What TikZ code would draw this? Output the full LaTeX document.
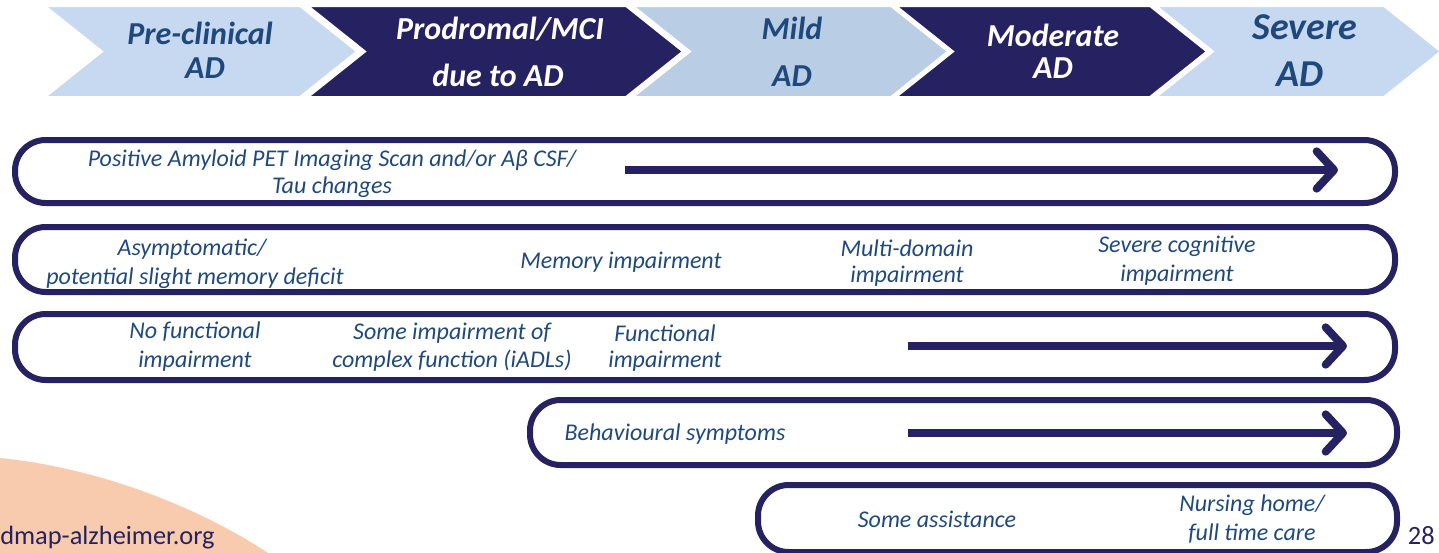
\documentclass[tikz,border=0pt]{standalone}
\usepackage{fontspec}
\setmainfont{Carlito}
\usetikzlibrary{arrows.meta}
\definecolor{navy}{HTML}{262262}
\definecolor{lblue}{HTML}{C6D9F0}
\definecolor{mblue}{HTML}{B9CDE5}
\definecolor{tblue}{HTML}{1F497D}
\definecolor{peach}{HTML}{F9CBAE}
\begin{document}
\begin{tikzpicture}[x=0.75pt,y=-0.75pt,
  chev/.style={draw=white, line width=1.5pt},
  rowbox/.style={draw=navy, line width=4.5pt, rounded corners=23pt},
  rowtxt/.style={font=\itshape\fontsize{18}{22}\selectfont, text=tblue, align=center, inner sep=0pt},
  chtxt/.style={font=\bfseries\itshape\fontsize{24}{28}\selectfont, inner sep=0pt},
  bigchtxt/.style={chtxt, font=\bfseries\itshape\fontsize{28.5}{32}\selectfont},
  bigarrow/.style={draw=navy, line width=6pt, -{Straight Barb[length=13pt,width=28pt,round]}},
  foot/.style={font=\fontsize{19.8}{23}\selectfont, text=navy, inner sep=0pt}]
\useasboundingbox (0,0) rectangle (1439,553);
% background blob
\fill[peach] (0,458) .. controls (100,468) and (200,508) .. (268,553) -- (0,553) -- cycle;
% chevrons
\filldraw[chev, fill=lblue] (45,6) -- (300,6) -- (357,51.5) -- (300,97) -- (45,97) -- (102,51.5) -- cycle;
\filldraw[chev, fill=navy] (308,6) -- (626,6) -- (683,51.5) -- (626,97) -- (308,97) -- (365,51.5) -- cycle;
\filldraw[chev, fill=mblue] (633,6) -- (891,6) -- (948,51.5) -- (891,97) -- (633,97) -- (690,51.5) -- cycle;
\filldraw[chev, fill=navy] (896,6) -- (1150,6) -- (1207,51.5) -- (1150,97) -- (896,97) -- (953,51.5) -- cycle;
\filldraw[chev, fill=lblue] (1156,6) -- (1384,6) -- (1441,51.5) -- (1384,97) -- (1156,97) -- (1213,51.5) -- cycle;
\node[chtxt, text=tblue] (c1a) at (200,33) {Pre-clinical};
\node[chtxt, text=tblue] (c1b) at (205,68) {AD};
\node[chtxt, text=white] (c2a) at (500,29) {Prodromal/MCI};
\node[chtxt, text=white] (c2b) at (498,75) {due to AD};
\node[chtxt, text=tblue] (c3a) at (792,28) {Mild};
\node[chtxt, text=tblue] (c3b) at (792,76) {AD};
\node[chtxt, text=white] (c4a) at (1053,35) {Moderate};
\node[chtxt, text=white] (c4b) at (1053,68) {AD};
\node[bigchtxt, text=tblue] (c5a) at (1305,27) {Severe};
\node[bigchtxt, text=tblue] (c5b) at (1300,74) {AD};
% rows
\draw[rowbox] (15,140) rectangle (1395,203);
\draw[rowbox] (15,227) rectangle (1395,292);
\draw[rowbox] (15,314) rectangle (1395,380);
\draw[rowbox] (530,400) rectangle (1397,465);
\draw[rowbox] (758,485) rectangle (1397,552);
% row 1
\node[rowtxt] (r1a) at (332,160) {Positive Amyloid PET Imaging Scan and/or Aβ CSF/};
\node[rowtxt] (r1b) at (332,187) {Tau changes};
\coordinate (a1s) at (625,170);
\coordinate (a1e) at (1338,170);
\draw[bigarrow] (a1s) -- (a1e);
% row 2
\node[rowtxt] (r2a) at (192,249) {Asymptomatic/};
\node[rowtxt] (r2b) at (195,278) {potential slight memory deficit};
\node[rowtxt] (r2c) at (621,262) {Memory impairment};
\node[rowtxt] (r2d) at (907,248) {Multi-domain};
\node[rowtxt] (r2e) at (907,276) {impairment};
\node[rowtxt] (r2f) at (1177,246) {Severe cognitive};
\node[rowtxt] (r2g) at (1177,275) {impairment};
% row 3
\node[rowtxt] (r3a) at (195,332) {No functional};
\node[rowtxt] (r3b) at (195,361) {impairment};
\node[rowtxt] (r3c) at (452,333) {Some impairment of};
\node[rowtxt] (r3d) at (452,361) {complex function (iADLs)};
\node[rowtxt] (r3e) at (665,333) {Functional};
\node[rowtxt] (r3f) at (665,361) {impairment};
\coordinate (a3s) at (908,346);
\coordinate (a3e) at (1347,346);
\draw[bigarrow] (a3s) -- (a3e);
% row 4
\node[rowtxt] (r4a) at (675,434) {Behavioural symptoms};
\coordinate (a4s) at (908,433);
\coordinate (a4e) at (1347,433);
\draw[bigarrow] (a4s) -- (a4e);
% row 5
\node[rowtxt] (r5a) at (937,519) {Some assistance};
\node[rowtxt] (r5b) at (1252,505) {Nursing home/};
\node[rowtxt] (r5c) at (1252,534) {full time care};
% footer
\node[foot, anchor=west] (url) at (0,538) {dmap-alzheimer.org};
\node[foot, anchor=east] (pg) at (1435,536) {28};
\end{tikzpicture}
\end{document}
